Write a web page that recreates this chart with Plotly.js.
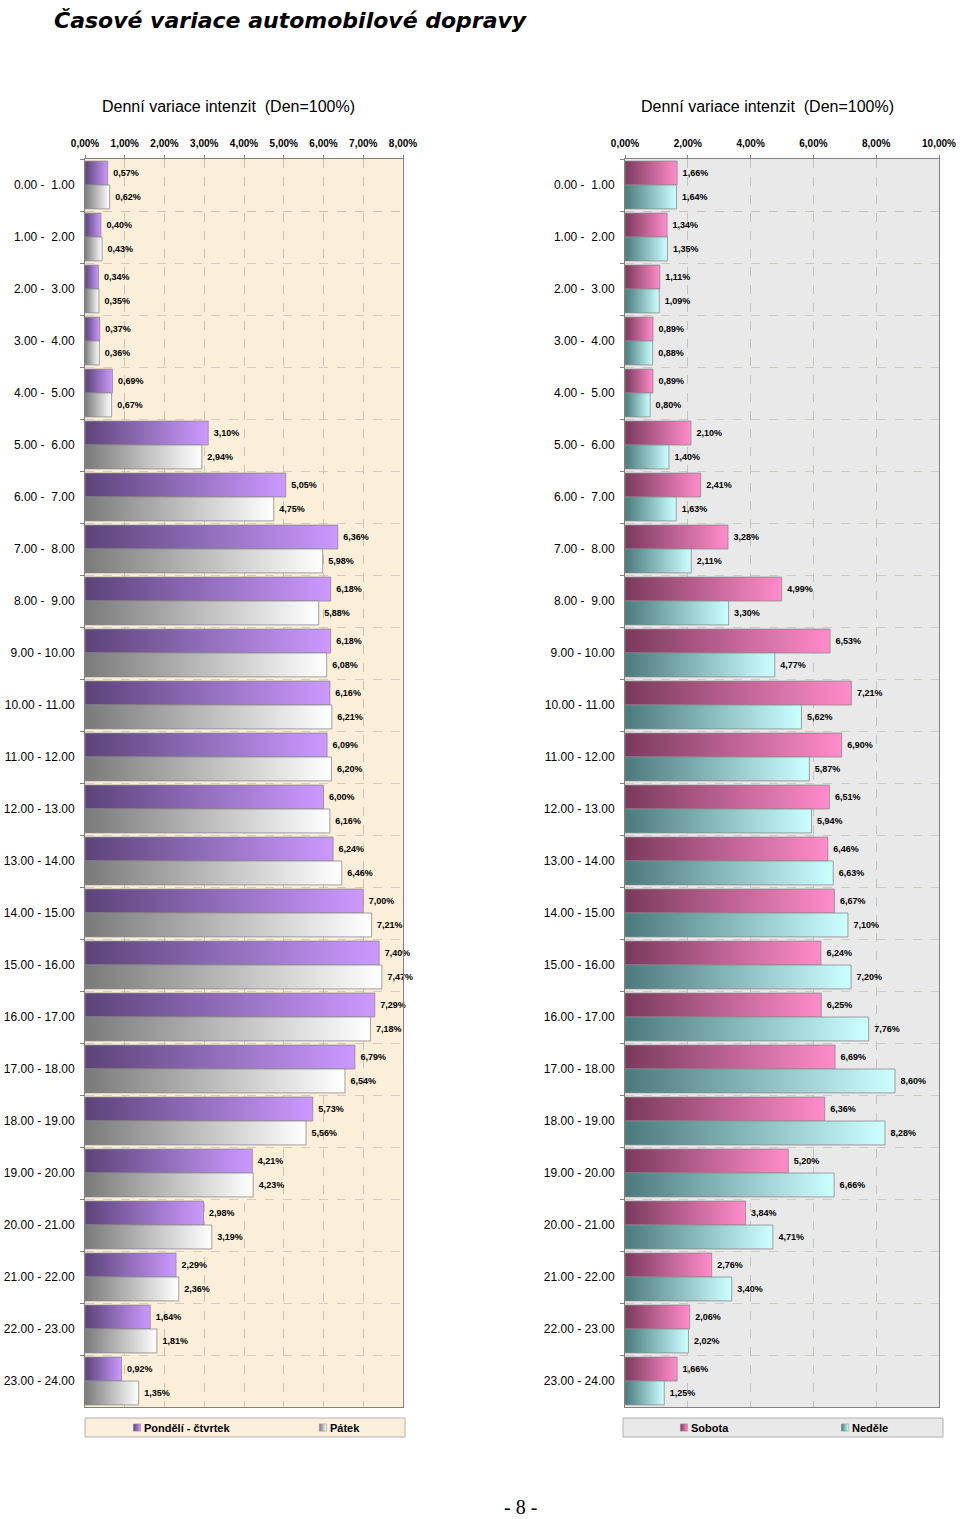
<!DOCTYPE html>
<html><head><meta charset="utf-8">
<script src="https://cdn.plot.ly/plotly-3.0.1.min.js"></script>
<style>body{margin:0;background:#fff}#c{width:960px;height:1519px}</style>
</head><body><div id="c"></div>
<script>
var categories = ["0.00 - \u00a01.00","1.00 - \u00a02.00","2.00 - \u00a03.00","3.00 - \u00a04.00","4.00 - \u00a05.00","5.00 - \u00a06.00","6.00 - \u00a07.00","7.00 - \u00a08.00","8.00 - \u00a09.00","9.00 - 10.00","10.00 - 11.00","11.00 - 12.00","12.00 - 13.00","13.00 - 14.00","14.00 - 15.00","15.00 - 16.00","16.00 - 17.00","17.00 - 18.00","18.00 - 19.00","19.00 - 20.00","20.00 - 21.00","21.00 - 22.00","22.00 - 23.00","23.00 - 24.00"];
var ponCt = [0.57,0.40,0.34,0.37,0.69,3.10,5.05,6.36,6.18,6.18,6.16,6.09,6.00,6.24,7.00,7.40,7.29,6.79,5.73,4.21,2.98,2.29,1.64,0.92];
var patek = [0.62,0.43,0.35,0.36,0.67,2.94,4.75,5.98,5.88,6.08,6.21,6.20,6.16,6.46,7.21,7.47,7.18,6.54,5.56,4.23,3.19,2.36,1.81,1.35];
var sobota = [1.66,1.34,1.11,0.89,0.89,2.10,2.41,3.28,4.99,6.53,7.21,6.90,6.51,6.46,6.67,6.24,6.25,6.69,6.36,5.20,3.84,2.76,2.06,1.66];
var nedele = [1.64,1.35,1.09,0.88,0.80,1.40,1.63,2.11,3.30,4.77,5.62,5.87,5.94,6.63,7.10,7.20,7.76,8.60,8.28,6.66,4.71,3.40,2.02,1.25];
var seriesNames = ["Pondělí - čtvrtek","Pátek","Sobota","Neděle"];
var leftTicks = [0,1,2,3,4,5,6,7,8];
var rightTicks = [0,2,4,6,8,10];

var W = 960, H = 1519;
function px(x){return x/W;}
function py(y){return (H-y)/H;}
function pct(a){return a.toFixed(2).replace('.',',')+'%';}
function lab(v){return v.map(function(a){return '\u00a0'+pct(a);});}

var grads = [
  ['g0','#5b4479','#cc99ff'],
  ['g1','#7a7a7a','#ffffff'],
  ['g2','#7a3a5c','#ff8ccb'],
  ['g3','#4a7a7c','#ccffff']
];
var flat = ['#a57fd6','#d8d8d8','#d0639c','#99dede'];

function bar(vals, i, xa, ya, lg){
  return {
    type:'bar', orientation:'h', name:seriesNames[i], x:vals, y:categories,
    xaxis:xa, yaxis:ya, legend:lg,
    marker:{color:flat[i], line:{color:'#8a8a8a', width:0.8}},
    text:lab(vals), textposition:'outside', cliponaxis:false,
    textfont:{family:'Liberation Sans, Arial', size:9, color:'#000', weight:'bold'},
    hoverinfo:'none'
  };
}
var data = [
  bar(ponCt,0,'x','y','legend2'),
  bar(patek,1,'x','y','legend3'),
  bar(sobota,2,'x2','y2','legend4'),
  bar(nedele,3,'x2','y2','legend5')
];

var yDom = [py(1407), py(159)];
function xax(dom, ticks, rng){
  return {
    domain:dom, range:rng, side:'top', tickvals:ticks, ticktext:ticks.map(pct),
    showgrid:true, gridcolor:'#b5b0a6', griddash:'dash', gridwidth:0.7,
    ticks:'outside', ticklen:3, tickcolor:'#808080', ticklabelstandoff:4,
    showline:true, linecolor:'#808080', linewidth:1, mirror:true,
    zeroline:false, fixedrange:true,
    tickfont:{family:'Liberation Sans, Arial', size:10, color:'#000', weight:'bold'}
  };
}
function yax(anchor){
  return {
    domain:yDom, anchor:anchor, autorange:'reversed', type:'category',
    tickson:'boundaries', ticks:'outside', ticklen:4, tickcolor:'#808080',
    ticklabelstandoff:7,
    showgrid:true, gridcolor:'#c2bcb0', griddash:'dash', gridwidth:0.7,
    showline:true, linecolor:'#808080', linewidth:1, mirror:true, fixedrange:true,
    tickfont:{family:'Liberation Sans, Arial', size:12, color:'#000'}
  };
}
var x1 = xax([px(85),px(403)], leftTicks, [0,8]);
x1.anchor = 'y';
var x2 = xax([px(625),px(939)], rightTicks, [0,10]);
x2.anchor = 'y2';

function leg(x){
  return {x:px(x), xanchor:'left', y:py(1427.5), yanchor:'middle', orientation:'h',
    bgcolor:'rgba(0,0,0,0)', borderwidth:0, itemwidth:30, visible:true,
    font:{family:'Liberation Sans, Arial', size:11, color:'#000', weight:'bold'}};
}

var layout = {
  width:W, height:H, margin:{l:0,r:0,t:0,b:0},
  paper_bgcolor:'#ffffff', plot_bgcolor:'rgba(0,0,0,0)',
  separators:', ', barmode:'group', bargap:0.08, bargroupgap:0, showlegend:true,
  xaxis:x1, yaxis:yax('x'), xaxis2:x2, yaxis2:yax('x2'),
  legend2:leg(104), legend3:leg(290), legend4:leg(651), legend5:leg(812),
  shapes:[
    {type:'rect', xref:'paper', yref:'paper', x0:px(85), x1:px(403), y0:py(1407), y1:py(159),
     fillcolor:'#fcefd9', line:{width:0}, layer:'below'},
    {type:'rect', xref:'paper', yref:'paper', x0:px(625), x1:px(939), y0:py(1407), y1:py(159),
     fillcolor:'#e9e9e9', line:{width:0}, layer:'below'},
    {type:'rect', xref:'paper', yref:'paper', x0:px(85), x1:px(405), y0:py(1437), y1:py(1418),
     fillcolor:'#fcefd9', line:{color:'#b0b0b0', width:1}, layer:'below'},
    {type:'rect', xref:'paper', yref:'paper', x0:px(623), x1:px(943), y0:py(1437), y1:py(1418),
     fillcolor:'#e9e9e9', line:{color:'#b0b0b0', width:1}, layer:'below'}
  ],
  annotations:[
    {text:'<b><i>Časové variace automobilové dopravy</i></b>', xref:'paper', yref:'paper',
     x:px(52), y:py(20), xanchor:'left', yanchor:'middle', showarrow:false,
     font:{family:'DejaVu Sans', size:22, color:'#000'}},
    {text:'Denní variace intenzit  (Den=100%)', xref:'paper', yref:'paper',
     x:px(228), y:py(106), xanchor:'center', yanchor:'middle', showarrow:false,
     font:{family:'Liberation Sans, Arial', size:16, color:'#000'}},
    {text:'Denní variace intenzit  (Den=100%)', xref:'paper', yref:'paper',
     x:px(767), y:py(106), xanchor:'center', yanchor:'middle', showarrow:false,
     font:{family:'Liberation Sans, Arial', size:16, color:'#000'}},
    {text:'- 8 -', xref:'paper', yref:'paper', x:px(520), y:py(1507), xanchor:'center', yanchor:'middle',
     showarrow:false, font:{family:'Liberation Serif, Times New Roman', size:20, color:'#000'}}
  ]
};

var gd = document.getElementById('c');
var NS = 'http://www.w3.org/2000/svg';
function applyGrads(){
  var svg = gd.querySelector('svg.main-svg');
  var defs = svg.querySelector('defs');
  grads.forEach(function(g){
    if(document.getElementById(g[0])) return;
    var lg = document.createElementNS(NS,'linearGradient');
    lg.setAttribute('id', g[0]); lg.setAttribute('x1','0'); lg.setAttribute('x2','1');
    lg.setAttribute('y1','0'); lg.setAttribute('y2','0');
    var s1 = document.createElementNS(NS,'stop'); s1.setAttribute('offset','0'); s1.setAttribute('stop-color',g[1]);
    var s2 = document.createElementNS(NS,'stop'); s2.setAttribute('offset','1'); s2.setAttribute('stop-color',g[2]);
    lg.appendChild(s1); lg.appendChild(s2); defs.appendChild(lg);
  });
  gd.querySelectorAll('.barlayer .trace').forEach(function(t){
    var d = t.__data__; var idx = d && d[0] && d[0].trace ? d[0].trace.index : null;
    if(idx===null) return;
    t.querySelectorAll('.point path').forEach(function(p){ p.style.fill = 'url(#'+grads[idx][0]+')'; });
  });
  gd.querySelectorAll('.legendpoints path').forEach(function(p){
    var c = (p.style.fill || '').replace(/\s/g,'');
    for(var i=0;i<flat.length;i++){
      var h = flat[i];
      var rgb = 'rgb('+parseInt(h.substr(1,2),16)+','+parseInt(h.substr(3,2),16)+','+parseInt(h.substr(5,2),16)+')';
      if(c===rgb){
        p.style.fill = 'url(#'+grads[i][0]+')';
        var orig = p.getAttribute('transform') || '';
        var bb = p.getBBox();
        var cx = bb.x + bb.width/2, cy = bb.y + bb.height/2;
        p.setAttribute('transform', orig+' translate('+(cx+13)+','+cy+') scale(0.6) translate('+(-cx)+','+(-cy)+')');
      }
    }
  });
}
Plotly.newPlot(gd, data, layout, {staticPlot:true}).then(function(){
  applyGrads();
  setTimeout(applyGrads, 50);
});
</script></body></html>
